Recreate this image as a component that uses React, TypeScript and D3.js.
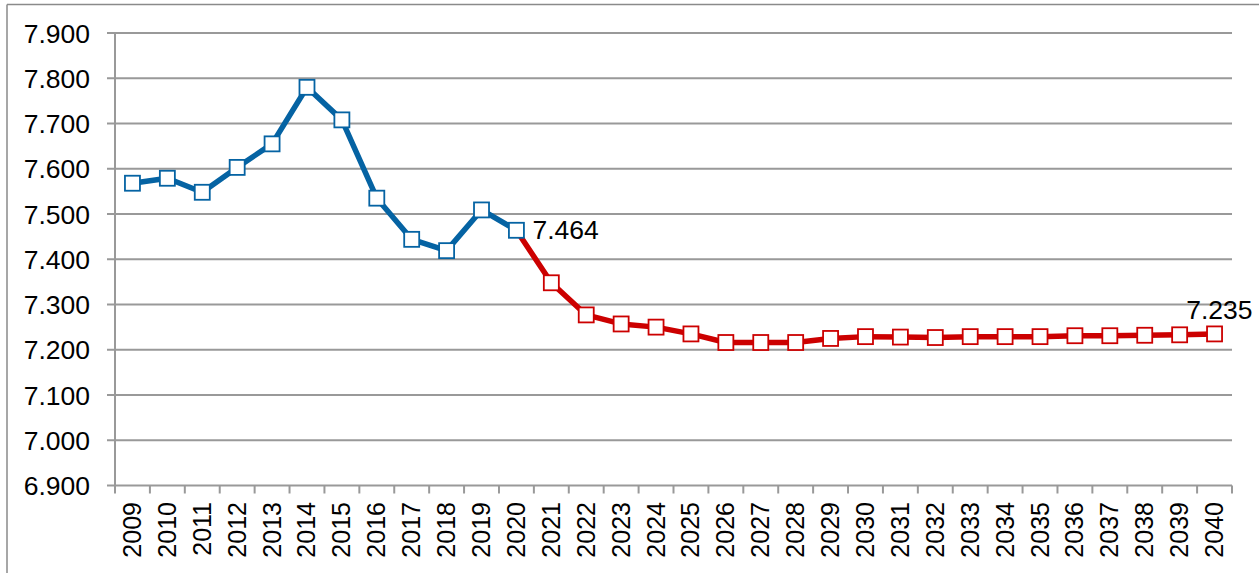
import React from "react";
import * as d3 from "d3";

const years: string[] = [
  "2009","2010","2011","2012","2013","2014","2015","2016","2017","2018","2019","2020",
  "2021","2022","2023","2024","2025","2026","2027","2028","2029","2030",
  "2031","2032","2033","2034","2035","2036","2037","2038","2039","2040",
];

const historical: number[] = [
  7.568, 7.579, 7.548, 7.603, 7.655, 7.780, 7.708, 7.535, 7.444, 7.419, 7.509, 7.464,
];

const forecastYears: string[] = years.slice(11);
const forecast: number[] = [
  7.464, 7.348, 7.277, 7.257, 7.250, 7.235, 7.216, 7.216, 7.216, 7.225, 7.229,
  7.228, 7.227, 7.229, 7.229, 7.229, 7.231, 7.231, 7.232, 7.233, 7.235,
];

const yTicks: number[] = [6.9, 7.0, 7.1, 7.2, 7.3, 7.4, 7.5, 7.6, 7.7, 7.8, 7.9];

const W = 1259;
const H = 573;
const left = 115;
const right = 1232;
const top = 33;
const bottom = 485.5;

const BLUE = "#0563A3";
const RED = "#CC0000";
const GRID = "#999999";
const FONT = "'Liberation Sans', Arial, sans-serif";

const fmt = (v: number) => v.toFixed(3);

export default function App() {
  const x = d3.scaleBand<string>().domain(years).range([left, right]).padding(0);
  const y = d3.scaleLinear().domain([6.9, 7.9]).range([bottom, top]);
  const cx = (yr: string) => (x(yr) as number) + x.bandwidth() / 2;

  const histPts: [number, number][] = historical.map((v, i) => [cx(years[i]), y(v)]);
  const fcPts: [number, number][] = forecast.map((v, i) => [cx(forecastYears[i]), y(v)]);
  const line = d3.line();
  const ms = 15;

  const lastHist = histPts[histPts.length - 1];
  const lastFc = fcPts[fcPts.length - 1];

  return (
    <svg
      width={W}
      height={H}
      style={{ position: "absolute", left: 0, top: 0, background: "#fff" }}
      fontFamily={FONT}
    >
      <rect x={0} y={0} width={W} height={H} fill="#fff" />
      {/* outer border */}
      <line x1={7} y1={4.5} x2={W} y2={4.5} stroke="#8a8a8a" strokeWidth={1.5} />
      <line x1={7} y1={4.5} x2={7} y2={H} stroke="#8a8a8a" strokeWidth={1.5} />

      {/* gridlines and y ticks */}
      {yTicks.map((t) => (
        <g key={t}>
          {t !== 6.9 && (
            <line x1={left} x2={right} y1={y(t)} y2={y(t)} stroke={GRID} strokeWidth={2} />
          )}
          <line x1={107} x2={left} y1={y(t)} y2={y(t)} stroke={GRID} strokeWidth={2} />
          <text
            x={90}
            y={y(t)}
            dy="0.36em"
            textAnchor="end"
            fontSize={26.5}
            fill="#000"
          >
            {fmt(t)}
          </text>
        </g>
      ))}

      {/* axes */}
      <line x1={left} x2={left} y1={top} y2={bottom} stroke={GRID} strokeWidth={2} />
      <line x1={left} x2={right} y1={bottom} y2={bottom} stroke={GRID} strokeWidth={2} />
      {years.map((yr) => (
        <line
          key={"t" + yr}
          x1={x(yr) as number}
          x2={x(yr) as number}
          y1={bottom}
          y2={bottom + 8}
          stroke={GRID}
          strokeWidth={2}
        />
      ))}
      <line x1={right} x2={right} y1={bottom} y2={bottom + 8} stroke={GRID} strokeWidth={2} />

      {/* x labels */}
      {years.map((yr) => (
        <text
          key={"l" + yr}
          transform={`translate(${cx(yr) + 8.5},${502}) rotate(-90)`}
          textAnchor="end"
          fontSize={25}
          fill="#000"
        >
          {yr}
        </text>
      ))}

      {/* forecast line */}
      <path d={line(fcPts) || ""} fill="none" stroke={RED} strokeWidth={5.5} strokeLinejoin="round" />
      {/* historical line */}
      <path d={line(histPts) || ""} fill="none" stroke={BLUE} strokeWidth={5.5} strokeLinejoin="round" />

      {fcPts.slice(1).map(([px, py], i) => (
        <rect
          key={"f" + i}
          x={px - ms / 2}
          y={py - ms / 2}
          width={ms}
          height={ms}
          fill="#fff"
          stroke={RED}
          strokeWidth={1.8}
        />
      ))}
      {histPts.map(([px, py], i) => (
        <rect
          key={"h" + i}
          x={px - ms / 2}
          y={py - ms / 2}
          width={ms}
          height={ms}
          fill="#fff"
          stroke={BLUE}
          strokeWidth={1.8}
        />
      ))}

      {/* data labels */}
      <text x={lastHist[0] + 16} y={lastHist[1] + 9} fontSize={26.5} fill="#000">
        {fmt(historical[historical.length - 1])}
      </text>
      <text x={lastFc[0] + 38} y={lastFc[1] - 15} textAnchor="end" fontSize={26.5} fill="#000">
        {fmt(forecast[forecast.length - 1])}
      </text>
    </svg>
  );
}
